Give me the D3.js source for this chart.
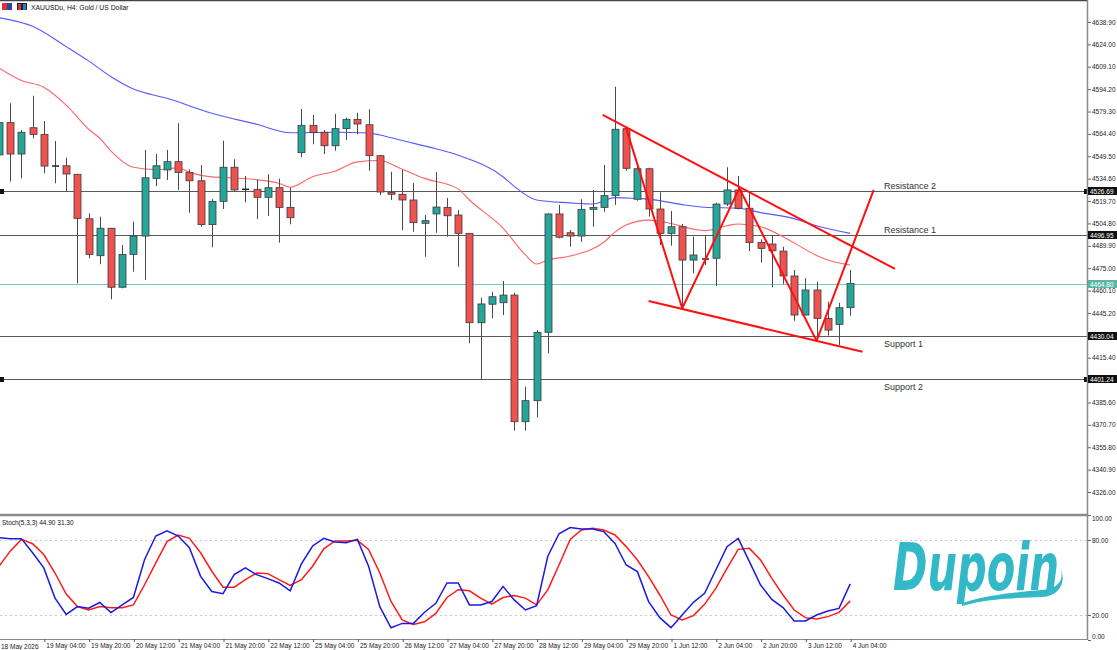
<!DOCTYPE html>
<html>
<head>
<meta charset="utf-8">
<script src="https://cdn.jsdelivr.net/npm/d3@7"></script>
<style>
  body { margin: 0; background: #fff; }
  svg { display: block; font-family: "Liberation Sans", Arial, sans-serif; }
</style>
</head>
<body>
<div id="chart"></div>
<script>
// XAUUSD H4 bars, 18 May 12:00 .. 4 Jun 04:00 (bar index 0..76)
let opens = [4550.4, 4571.9, 4551.0, 4568.5, 4564.1, 4543.0, 4543.2, 4537.5, 4507.9, 4483.3,
  4501.6, 4462.3, 4484.2, 4496.4, 4534.8, 4540.4, 4545.9, 4538.8, 4533.2, 4504.0,
  4519.5, 4542.2, 4527.5, 4527.5, 4522.2, 4528.6, 4515.5, 4551.9, 4570.1, 4565.5,
  4556.5, 4567.9, 4574.1, 4570.5, 4549.9, 4525.5, 4524.2, 4520.4, 4504.9, 4511.1,
  4515.5, 4510.4, 4498.2, 4438.7, 4451.0, 4452.0, 4457.1, 4372.8, 4386.8, 4432.3,
  4511.1, 4498.6, 4496.4, 4514.2, 4515.5, 4523.3, 4567.9, 4520.9, 4541.2, 4514.4,
  4498.2, 4502.6, 4480.4, 4481.1, 4481.6, 4517.7, 4527.1, 4514.9, 4492.2, 4491.1,
  4486.4, 4469.8, 4443.8, 4460.5, 4441.6, 4437.6, 4448.7]
let highs = [4577.0, 4584.8, 4567.0, 4589.8, 4573.0, 4559.7, 4548.6, 4537.8, 4511.5, 4509.3,
  4501.8, 4490.4, 4506.0, 4553.7, 4551.0, 4553.7, 4571.5, 4540.8, 4543.7, 4521.1,
  4559.9, 4547.5, 4536.4, 4534.2, 4537.5, 4534.6, 4528.6, 4581.0, 4577.0, 4567.0,
  4577.7, 4575.2, 4578.5, 4580.8, 4550.4, 4539.2, 4540.4, 4531.7, 4510.4, 4539.0,
  4521.7, 4513.7, 4498.4, 4455.4, 4459.3, 4466.5, 4458.7, 4396.1, 4433.8, 4511.5,
  4517.1, 4500.4, 4520.9, 4527.1, 4543.7, 4595.8, 4569.2, 4543.7, 4541.9, 4525.5,
  4513.1, 4504.4, 4496.0, 4497.1, 4518.6, 4542.2, 4536.4, 4524.9, 4494.2, 4497.1,
  4489.3, 4473.8, 4468.3, 4466.0, 4452.7, 4452.0, 4473.8]
let lows = [4547.0, 4532.6, 4534.8, 4561.5, 4538.2, 4531.5, 4525.9, 4464.9, 4481.6, 4477.6,
  4454.3, 4461.6, 4472.7, 4467.1, 4529.7, 4533.7, 4527.1, 4511.9, 4502.6, 4488.9,
  4514.4, 4525.9, 4518.9, 4507.7, 4509.9, 4492.0, 4504.2, 4548.8, 4557.5, 4551.0,
  4553.2, 4560.3, 4564.1, 4539.9, 4523.7, 4520.4, 4500.4, 4499.3, 4482.6, 4498.6,
  4496.0, 4476.0, 4425.0, 4401.0, 4441.6, 4443.8, 4366.8, 4366.8, 4375.5, 4418.3,
  4494.9, 4489.3, 4492.6, 4502.6, 4512.6, 4517.1, 4539.9, 4519.9, 4509.3, 4490.4,
  4490.0, 4448.3, 4471.6, 4477.1, 4463.1, 4516.4, 4514.2, 4486.4, 4478.7, 4462.3,
  4464.5, 4440.0, 4443.6, 4427.2, 4430.1, 4423.9, 4443.4]
let closes = [4571.9, 4551.0, 4565.5, 4564.1, 4543.0, 4542.8, 4537.7, 4508.2, 4484.2, 4501.6,
  4462.3, 4484.2, 4496.4, 4535.2, 4543.2, 4545.9, 4538.8, 4533.2, 4504.0, 4519.5,
  4542.2, 4527.1, 4527.4, 4522.2, 4528.6, 4515.5, 4508.6, 4570.1, 4565.2, 4556.5,
  4567.9, 4574.1, 4571.0, 4549.9, 4525.7, 4524.2, 4520.4, 4505.3, 4506.6, 4515.7,
  4509.9, 4498.2, 4438.7, 4451.2, 4456.0, 4457.1, 4372.8, 4386.8, 4432.3, 4511.1,
  4495.6, 4496.4, 4514.2, 4515.5, 4523.3, 4567.5, 4541.5, 4541.2, 4514.4, 4498.2,
  4502.6, 4480.4, 4483.8, 4481.0, 4517.7, 4527.1, 4514.9, 4492.0, 4488.2, 4486.6,
  4469.8, 4443.8, 4460.5, 4441.6, 4433.8, 4448.7, 4464.8]

// moving averages, read at sample bars
let maSlowBars = [0, 3, 6, 8, 10, 12, 15, 19, 23, 26, 30, 33, 34, 36, 39, 41, 45, 46, 48, 51, 53, 55, 57, 58, 61, 63, 66, 68, 71, 73, 76]
let maSlow = [4641.8, 4636.0, 4622.5, 4613.0, 4602.5, 4594.3, 4588.1, 4578.2, 4570.8, 4565.2, 4565.5, 4565.0, 4563.7, 4560.0, 4554.5, 4550.2,
  4535.9, 4529.5, 4520.4, 4518.5, 4517.7, 4522.0, 4521.4, 4521.0, 4517.3, 4515.6, 4514.9, 4512.0, 4508.0, 4503.2, 4498.2]
let maFastBars = [0, 2, 4, 6, 8, 9, 10, 12, 14, 16, 17, 19, 21, 23, 25, 26, 28, 30, 32, 34, 36, 38, 41, 42, 45, 47, 48, 49, 51, 54, 55, 56,
  58, 60, 62, 63, 65, 66, 68, 70, 73, 74, 76]
let maFast = [4608.3, 4600.0, 4595.5, 4583.6, 4567.5, 4561.5, 4553.0, 4542.2, 4540.6, 4541.8, 4538.8, 4535.8, 4535.1, 4533.9, 4531.5, 4528.9,
  4535.9, 4539.6, 4545.8, 4546.7, 4540.8, 4534.8, 4527.8, 4520.4, 4501.7, 4483.8, 4477.8, 4480.5, 4483.1, 4492.3, 4499.0, 4503.7,
  4507.0, 4504.8, 4501.0, 4500.0, 4503.3, 4504.4, 4502.6, 4496.0, 4483.5, 4480.5, 4477.1]

// Stochastic (5,3,3)
let stochK = [81.9, 81.1, 81.1, 69.8, 57.7, 33.5, 20.5, 26.7, 25.4, 30.0,
  21.9, 28.1, 34.0, 64.4, 83.2, 87.3, 83.2, 73.8, 50.9, 38.8,
  37.0, 52.3, 57.7, 52.3, 49.1, 45.6, 39.4, 60.9, 75.2, 81.3,
  78.4, 77.8, 80.5, 59.0, 26.7, 9.8, 13.3, 13.3, 22.2, 29.4,
  45.6, 45.6, 28.1, 28.1, 30.8, 42.9, 32.1, 24.0, 27.5, 67.0,
  85.0, 89.9, 88.8, 88.8, 86.7, 77.3, 60.0, 54.7, 30.7, 17.9,
  9.9, 20.0, 30.1, 37.3, 56.0, 74.7, 81.3, 62.7, 44.0, 32.5,
  25.9, 15.2, 15.2, 20.0, 23.2, 25.3, 44.9]
let stochD = [59.0, 71.1, 80.5, 77.0, 68.4, 53.6, 36.7, 26.7, 24.0, 26.7,
  25.9, 25.9, 28.1, 44.2, 61.7, 78.7, 84.0, 81.3, 69.8, 55.0,
  42.3, 42.3, 48.3, 53.6, 53.1, 48.3, 43.7, 48.3, 59.0, 72.9,
  79.2, 79.2, 79.7, 72.5, 53.6, 30.8, 16.0, 12.5, 14.6, 21.3,
  34.0, 40.2, 39.4, 33.5, 28.6, 34.0, 35.6, 33.5, 28.1, 40.1,
  60.0, 80.5, 88.0, 89.3, 88.0, 84.0, 74.7, 64.0, 50.7, 36.0,
  20.0, 16.0, 19.5, 28.5, 41.3, 57.3, 72.5, 73.3, 64.0, 49.3,
  36.0, 24.0, 17.9, 16.8, 18.7, 22.1, 31.3]

// horizontal levels
let levelNames = ["Resistance 2", "Resistance 1", "Support 1", "Support 2"]
let levelValues = [4526.69, 4496.95, 4430.04, 4401.24]
let lastPrice = 4464.80

// drawn pattern lines: [bar, price]
let upperChannel = [[53.9, 4577.0], [80.0, 4474.5]]
let lowerChannel = [[58.0, 4453.1], [77.1, 4419.4]]
let zigzag = [[56.0, 4568.1], [61.0, 4448.3], [66.1, 4528.2], [73.0, 4426.6], [78.1, 4527.1]]

// axes
let priceTicks = [4326.0, 4340.9, 4355.8, 4370.7, 4385.6, 4415.4, 4445.2, 4460.1, 4475.0, 4489.9,
  4504.8, 4519.7, 4534.6, 4549.5, 4564.4, 4579.3, 4594.2, 4609.1, 4624.0, 4638.9]
let stochTicks = [0, 20, 80, 100]
let timeTickBars = [4, 8, 12, 16, 20, 24, 28, 32, 36, 40, 44, 48, 52, 56, 60, 64, 68, 72, 76]
let timeTickLabels = ["19 May 04:00", "19 May 20:00", "20 May 12:00", "21 May 04:00", "21 May 20:00", "22 May 12:00",
  "25 May 04:00", "25 May 20:00", "26 May 12:00", "27 May 04:00", "27 May 20:00", "28 May 12:00",
  "29 May 04:00", "29 May 20:00", "1 Jun 12:00", "2 Jun 04:00", "2 Jun 20:00", "3 Jun 12:00", "4 Jun 04:00"]

let svgWidth = 1117, svgHeight = 650
let plotRight = 1087
let mainBottom = 513

let svg = d3.select("#chart").append("svg")
  .attr("width", svgWidth)
  .attr("height", svgHeight)

let x = d3.scaleLinear().domain([0, 76]).range([-1, 850.2])
let y = d3.scaleLinear().domain([4326.0, 4638.9]).range([492, 22])
let yStoch = d3.scaleLinear().domain([0, 100]).range([640, 515])

let defs = svg.append("defs")
defs.append("clipPath").attr("id", "clipMain")
  .append("rect").attr("x", 0).attr("y", 1).attr("width", plotRight).attr("height", mainBottom - 1)
defs.append("clipPath").attr("id", "clipStoch")
  .append("rect").attr("x", 0).attr("y", 516).attr("width", plotRight).attr("height", 123)

let main = svg.append("g").attr("clip-path", "url(#clipMain)")
let stoch = svg.append("g").attr("clip-path", "url(#clipStoch)")

// level lines
levelValues.forEach((v, i) => {
  let ly = Math.round(y(v)) + 0.5
  main.append("line")
    .attr("x1", 0).attr("x2", plotRight)
    .attr("y1", ly).attr("y2", ly)
    .attr("stroke", "#5a5a5a").attr("stroke-width", 1.2)
  main.append("text")
    .attr("x", 884)
    .attr("y", i < 2 ? ly - 3 : ly + 10)
    .attr("font-size", 9)
    .attr("fill", "#333")
    .text(levelNames[i])
})
// little end markers on R2 / S2
;[levelValues[0], levelValues[3]].forEach(v => {
  let ly = Math.round(y(v))
  main.append("rect").attr("x", 0).attr("y", ly - 2).attr("width", 4).attr("height", 5).attr("fill", "#111")
  svg.append("rect").attr("x", plotRight - 3).attr("y", ly - 2).attr("width", 4).attr("height", 5).attr("fill", "#111")
})

// last price line
main.append("line")
  .attr("x1", 0).attr("x2", plotRight)
  .attr("y1", Math.round(y(lastPrice)) + 0.5).attr("y2", Math.round(y(lastPrice)) + 0.5)
  .attr("stroke", "#7cc9b9").attr("stroke-width", 1)

// moving averages
let maLine = d3.line().x(d => x(d[0])).y(d => y(d[1])).curve(d3.curveMonotoneX)
main.append("path")
  .attr("d", maLine(maSlowBars.map((b, i) => [b, maSlow[i]])))
  .attr("fill", "none").attr("stroke", "#5858ff").attr("stroke-width", 1.1)
main.append("path")
  .attr("d", maLine(maFastBars.map((b, i) => [b, maFast[i]])))
  .attr("fill", "none").attr("stroke", "#ff6464").attr("stroke-width", 1.1)

// candles
let candleData = opens.map((o, i) => ({ i: i, o: o, h: highs[i], l: lows[i], c: closes[i] }))
let candles = main.selectAll("g.candle")
  .data(candleData)
  .enter()
  .append("g")
  .classed("candle", true)

candles.append("line")
  .attr("x1", d => Math.round(x(d.i)) + 0.5)
  .attr("x2", d => Math.round(x(d.i)) + 0.5)
  .attr("y1", d => y(d.h))
  .attr("y2", d => y(d.l))
  .attr("stroke", "#4a4a4a")
  .attr("stroke-width", 1)

candles.filter(d => Math.abs(d.o - d.c) >= 0.3)
  .append("rect")
  .attr("x", d => Math.round(x(d.i)) - 3)
  .attr("y", d => y(Math.max(d.o, d.c)))
  .attr("width", 7)
  .attr("height", d => Math.max(1, Math.abs(y(d.o) - y(d.c))))
  .attr("fill", d => d.c > d.o ? "#26a69a" : "#ef5350")
  .attr("stroke", "#3a3a3a")
  .attr("stroke-width", 0.8)

candles.filter(d => Math.abs(d.o - d.c) < 0.3)
  .append("line")
  .attr("x1", d => Math.round(x(d.i)) - 3)
  .attr("x2", d => Math.round(x(d.i)) + 4)
  .attr("y1", d => y(d.o))
  .attr("y2", d => y(d.o))
  .attr("stroke", "#222")
  .attr("stroke-width", 1.5)

// pattern lines in red
let plain = d3.line().x(d => x(d[0])).y(d => y(d[1]))
;[upperChannel, lowerChannel, zigzag].forEach(pts => {
  main.append("path")
    .attr("d", plain(pts))
    .attr("fill", "none")
    .attr("stroke", "#ff1010")
    .attr("stroke-width", 2)
    .attr("stroke-linejoin", "round")
})

// header
svg.append("rect").attr("x", 2).attr("y", 3).attr("width", 5).attr("height", 7).attr("fill", "#d33")
svg.append("rect").attr("x", 7).attr("y", 3).attr("width", 5).attr("height", 7).attr("fill", "#2646a8")
svg.append("rect").attr("x", 17).attr("y", 3).attr("width", 10).attr("height", 7).attr("fill", "#222")
svg.append("rect").attr("x", 18).attr("y", 4).attr("width", 3).attr("height", 6).attr("fill", "#d33")
svg.append("rect").attr("x", 23).attr("y", 4).attr("width", 3).attr("height", 6).attr("fill", "#2a7be0")
svg.append("text")
  .attr("x", 31).attr("y", 10)
  .attr("font-size", 6.8)
  .attr("fill", "#111")
  .text("XAUUSDu, H4:  Gold / US Dollar")

// stochastic panel
stochTicks.filter(v => v === 20 || v === 80).forEach(v => {
  stoch.append("line")
    .attr("x1", 0).attr("x2", plotRight)
    .attr("y1", Math.round(yStoch(v)) + 0.5).attr("y2", Math.round(yStoch(v)) + 0.5)
    .attr("stroke", "#c8c8c8").attr("stroke-dasharray", "2,3")
})
let stochLine = d3.line().x((d, i) => x(i)).y(d => yStoch(d))
stoch.append("path")
  .attr("d", stochLine(stochD))
  .attr("fill", "none").attr("stroke", "#ff1a1a").attr("stroke-width", 1.5)
stoch.append("path")
  .attr("d", stochLine(stochK))
  .attr("fill", "none").attr("stroke", "#1a1ae0").attr("stroke-width", 1.5)
svg.append("text")
  .attr("x", 2).attr("y", 525)
  .attr("font-size", 6.5)
  .attr("fill", "#111")
  .text(`Stoch(5,3,3) ${stochK[stochK.length - 1].toFixed(2)} ${stochD[stochD.length - 1].toFixed(2)}`)

// Dupoin logo, one text stretched upward
let logo = svg.append("g").attr("fill", "#33b8c8")
logo.append("text")
  .attr("transform", "translate(893, 590) scale(1, 1.3)")
  .attr("font-family", "DejaVu Sans")
  .attr("font-weight", "bold")
  .attr("font-style", "italic")
  .attr("font-size", 50)
  .attr("textLength", 166)
  .attr("lengthAdjust", "spacingAndGlyphs")
  .text("Dupoin")
logo.append("path")
  .attr("d", "M962,603 C990,594 1020,592 1042,590 C1056,589 1064,582 1061,570 C1066,582 1060,596 1042,597 C1020,598 990,598 962,606 Z")

// frame
svg.append("line").attr("x1", 0).attr("x2", plotRight).attr("y1", 0.5).attr("y2", 0.5).attr("stroke", "#444").attr("stroke-width", 1.5)
svg.append("line").attr("x1", 0).attr("x2", plotRight).attr("y1", 515).attr("y2", 515).attr("stroke", "#8a8a8a").attr("stroke-width", 2.5)
svg.append("line").attr("x1", 0).attr("x2", plotRight).attr("y1", 639.5).attr("y2", 639.5).attr("stroke", "#8a8a8a").attr("stroke-width", 1)
svg.append("line").attr("x1", plotRight + 0.5).attr("x2", plotRight + 0.5).attr("y1", 0).attr("y2", 640).attr("stroke", "#8a8a8a").attr("stroke-width", 1.5)

// price axis
let priceAxis = svg.append("g")
  .attr("transform", `translate(${plotRight + 1}, 0)`)
  .call(d3.axisRight(y).tickValues(priceTicks).tickFormat(d3.format(".2f")).tickSize(3).tickPadding(1))
priceAxis.select(".domain").remove()
priceAxis.selectAll("text").attr("font-size", 6.5).attr("font-family", "Liberation Sans, Arial, sans-serif").attr("fill", "#222")
priceAxis.selectAll("line").attr("stroke", "#666")

// level and price tags on the axis
let tags = levelValues.map(v => ({ v: v, bg: "#111" })).concat([{ v: lastPrice, bg: "#56b8a4" }])
tags.forEach(t => {
  let ty = Math.round(y(t.v))
  svg.append("rect")
    .attr("x", plotRight + 1).attr("y", ty - 4)
    .attr("width", svgWidth - plotRight - 1).attr("height", 8)
    .attr("fill", t.bg)
  svg.append("text")
    .attr("x", plotRight + 3).attr("y", ty + 2.5)
    .attr("font-size", 6.5)
    .attr("fill", "#fff")
    .text(t.v.toFixed(2))
})

// stochastic axis
let stochAxis = svg.append("g")
  .attr("transform", `translate(${plotRight + 1}, 0)`)
  .call(d3.axisRight(yStoch).tickValues(stochTicks).tickFormat(d3.format(".2f")).tickSize(3).tickPadding(1))
stochAxis.select(".domain").remove()
stochAxis.selectAll("text")
  .attr("font-size", 6.5).attr("font-family", "Liberation Sans, Arial, sans-serif").attr("fill", "#222")
  .attr("dy", d => d === 100 ? "0.9em" : d === 0 ? "-0.3em" : "0.32em")
stochAxis.selectAll("line").attr("stroke", "#666")

// time axis
let timeAxis = svg.append("g")
  .attr("transform", "translate(0, 639)")
  .call(d3.axisBottom(x).tickValues(timeTickBars).tickFormat((d, i) => timeTickLabels[i]).tickSize(3).tickPadding(0))
timeAxis.select(".domain").remove()
timeAxis.selectAll("line").attr("stroke", "#555").attr("transform", "translate(0.5,0)")
timeAxis.selectAll("text")
  .attr("font-size", 6.5).attr("font-family", "Liberation Sans, Arial, sans-serif").attr("fill", "#222")
  .attr("text-anchor", "start").attr("dx", 2).attr("y", 3).attr("dy", "0.95em")
svg.append("text")
  .attr("x", 1).attr("y", 648.5)
  .attr("font-size", 6.5).attr("fill", "#222")
  .text("18 May 2026")
</script>
</body>
</html>
